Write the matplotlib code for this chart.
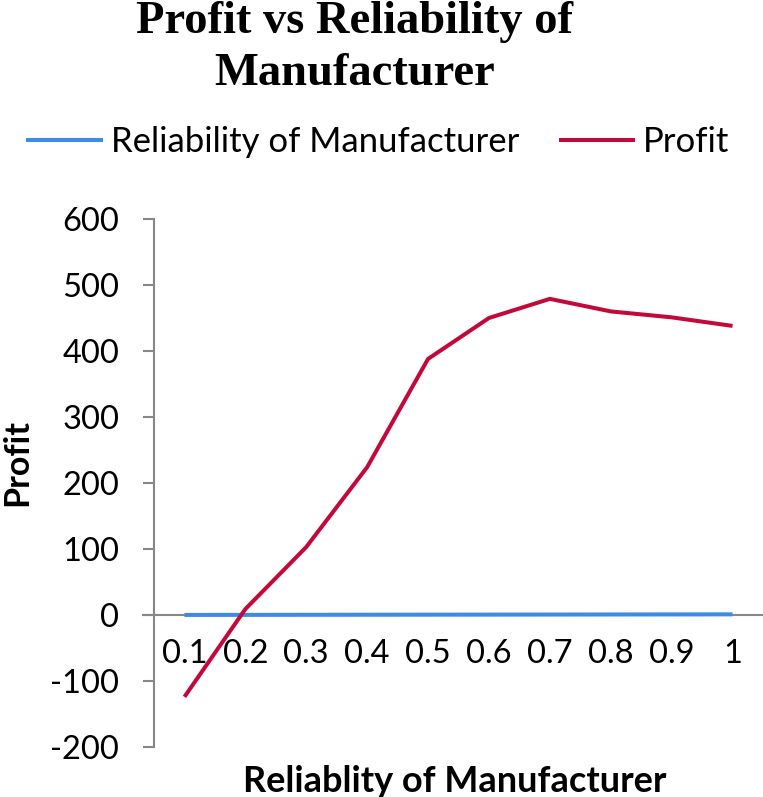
import matplotlib
matplotlib.use("Agg")
import matplotlib.pyplot as plt

categories = ["0.1", "0.2", "0.3", "0.4", "0.5", "0.6", "0.7", "0.8", "0.9", "1"]
reliability = [0.1, 0.2, 0.3, 0.4, 0.5, 0.6, 0.7, 0.8, 0.9, 1.0]
profit = [-124, 9, 103, 224, 388, 450, 479, 460, 451, 438]
y_ticks = [-200, -100, 0, 100, 200, 300, 400, 500, 600]

BLUE = "#3C8CE6"
RED = "#C3093A"
GRAY = "#878787"
SANS = "Lato"

W, H = 763, 797
fig = plt.figure(figsize=(W / 100, H / 100), dpi=100)
ax = fig.add_axes([154 / W, 1 - 747 / H, (W - 154) / W, (747 - 219) / H])

for s in ["top", "right"]:
    ax.spines[s].set_visible(False)
ax.spines["bottom"].set_position(("data", 0))
ax.spines["left"].set_color(GRAY)
ax.spines["left"].set_linewidth(1.5)
ax.spines["bottom"].set_color(GRAY)
ax.spines["bottom"].set_linewidth(1.5)

x = list(range(len(categories)))
ax.plot(x, reliability, color=BLUE, lw=2.9, label="Reliability of Manufacturer", solid_capstyle="butt", zorder=3)
ax.plot(x, profit, color=RED, lw=2.9, label="Profit", solid_capstyle="butt", zorder=4)

ax.set_xlim(-0.5, len(categories) - 0.5)
ax.set_ylim(-200, 600)
ax.set_yticks(y_ticks)
ax.set_yticklabels([str(v) for v in y_ticks], fontsize=23.5, family=SANS)
ax.set_xticks(x)
ax.set_xticklabels(categories, fontsize=23.5, family=SANS)

ax.tick_params(axis="y", direction="out", length=8, width=1.5, color=GRAY, pad=17)
ax.tick_params(axis="x", length=0, pad=17)
# extend the horizontal axis line slightly to the left like the reference
ax.plot([-0.5 - 11 / 60.9, -0.5], [0, 0], color=GRAY, lw=1.5, clip_on=False, zorder=2)

fig.text(17 / W, 1 - 463 / H, "Profit", rotation=90, ha="center", va="center",
         fontsize=24.5, fontweight="bold", family=SANS)
fig.text(455 / W, 1 - 781 / H, "Reliablity of Manufacturer", ha="center", va="center",
         fontsize=26, fontweight="bold", family=SANS)

fig.text(355 / W, 1 - 33 / H, "Profit vs Reliability of", ha="center", va="baseline",
         fontsize=33.5, fontweight="bold", family="Liberation Serif")
fig.text(355 / W, 1 - 85 / H, "Manufacturer", ha="center", va="baseline",
         fontsize=33.5, fontweight="bold", family="Liberation Serif")

leg = fig.legend(loc="center", bbox_to_anchor=(378 / W, 1 - 142 / H), ncol=2, frameon=False,
                 prop={"family": SANS, "size": 25}, handlelength=2.2, handletextpad=0.23,
                 columnspacing=1.15, borderaxespad=0, borderpad=0)

fig.savefig("out.png", dpi=100)
